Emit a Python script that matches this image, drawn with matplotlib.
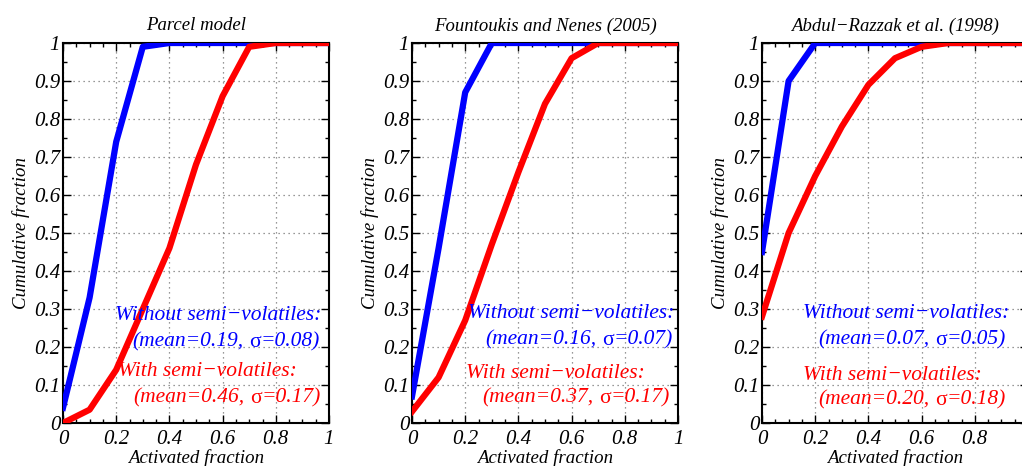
import numpy as np
import matplotlib
matplotlib.use("Agg")
import matplotlib.pyplot as plt
from matplotlib.ticker import MultipleLocator

plt.rcParams['font.family'] = ['Liberation Serif', 'DejaVu Serif']
plt.rcParams['font.style'] = 'italic'

activated = [0.0, 0.1, 0.2, 0.3, 0.4, 0.5, 0.6, 0.7, 0.8, 0.9, 1.0]

titles = ["Parcel model", "Fountoukis and Nenes (2005)", "Abdul\u2212Razzak et al. (1998)"]

parcel_without = [0.04, 0.33, 0.74, 0.99, 1.0, 1.0, 1.0, 1.0, 1.0, 1.0, 1.0]
parcel_with = [0.0, 0.035, 0.14, 0.30, 0.46, 0.68, 0.86, 0.99, 1.0, 1.0, 1.0]
fn_without = [0.07, 0.46, 0.87, 1.0, 1.0, 1.0, 1.0, 1.0, 1.0, 1.0, 1.0]
fn_with = [0.03, 0.12, 0.27, 0.47, 0.66, 0.84, 0.96, 1.0, 1.0, 1.0, 1.0]
ar_without = [0.45, 0.90, 1.0, 1.0, 1.0, 1.0, 1.0, 1.0, 1.0, 1.0, 1.0]
ar_with = [0.28, 0.50, 0.65, 0.78, 0.89, 0.96, 0.99, 1.0, 1.0, 1.0, 1.0]

without_series = [parcel_without, fn_without, ar_without]
with_series = [parcel_with, fn_with, ar_with]

without_mean = ["0.19", "0.16", "0.07"]
without_sigma = ["0.08", "0.07", "0.05"]
with_mean = ["0.46", "0.37", "0.20"]
with_sigma = ["0.17", "0.17", "0.18"]

xtick_labels = ['0', '0.2', '0.4', '0.6', '0.8', '1']
ytick_labels = ['0', '0.1', '0.2', '0.3', '0.4', '0.5', '0.6', '0.7', '0.8', '0.9', '1']

W, H = 1022, 466
fig = plt.figure(figsize=(W / 100, H / 100), dpi=100)

lefts_px = [63, 412, 762]
ax_w_px, ax_top_px, ax_bot_px = 266, 43, 423

txt_left_px = [
    [115, 132, 118, 133],
    [468, 485, 466, 482],
    [803, 818, 803, 818],
]
txt_y_px = [
    [315, 342, 372, 398],
    [313, 340, 373, 398],
    [313, 340, 375, 400],
]

FS = 15.5


def stats_line(ax, x, y, mean, sigma, color):
    t1 = ax.text(x, y, "(mean=" + mean + ",", transform=ax.transAxes, color=color,
                 fontsize=FS, ha='left', va='center', zorder=4)
    t2 = ax.annotate("\u03c3", xy=(1, 0), xycoords=t1, xytext=(4.5, 0), textcoords='offset points',
                     color=color, fontsize=FS, fontstyle='normal', ha='left', va='bottom', zorder=4)
    ax.annotate("=" + sigma + ")", xy=(1, 0), xycoords=t2, xytext=(0, 0), textcoords='offset points',
                color=color, fontsize=FS, ha='left', va='bottom', zorder=4)


for i in range(3):
    l = lefts_px[i]
    ax = fig.add_axes([l / W, (H - ax_bot_px) / H, ax_w_px / W, (ax_bot_px - ax_top_px) / H])
    ax.plot(activated, without_series[i], color='#0000ff', lw=4.5, zorder=3)
    ax.plot(activated, with_series[i], color='#ff0000', lw=4.5, zorder=3)
    ax.set_xlim(0, 1)
    ax.set_ylim(0, 1)
    ax.set_xticks([0, 0.2, 0.4, 0.6, 0.8, 1.0])
    xl = list(xtick_labels)
    if i == 2:
        xl[-1] = ''
    ax.set_xticklabels(xl)
    ax.set_yticks(np.round(np.arange(0, 1.01, 0.1), 1))
    ax.set_yticklabels(ytick_labels)
    ax.xaxis.set_minor_locator(MultipleLocator(0.05))
    ax.yaxis.set_minor_locator(MultipleLocator(0.05))
    ax.tick_params(which='both', direction='in', top=True, right=True, labelsize=15)
    ax.tick_params(which='major', length=6, width=1.0)
    ax.tick_params(which='minor', length=3, width=1.0)
    ax.tick_params(axis='x', pad=5)
    ax.tick_params(axis='y', pad=2)
    for s in ax.spines.values():
        s.set_linewidth(1.5)
    ax.grid(True, which='major', color='#777777', linestyle=(0, (1, 3)), linewidth=0.9)
    ax.set_axisbelow(True)
    ax.set_title(titles[i], fontsize=13.5, pad=9)
    ax.set_xlabel("Activated fraction", fontsize=13.6, labelpad=0)
    ax.set_ylabel("Cumulative fraction", fontsize=13.6, labelpad=3)

    fy = lambda yp: (ax_bot_px - yp) / (ax_bot_px - ax_top_px)
    fx = lambda xp: (xp - l) / ax_w_px
    ax.text(fx(txt_left_px[i][0]), fy(txt_y_px[i][0]), "Without semi\u2212volatiles:",
            transform=ax.transAxes, color='#0000ff', fontsize=FS, ha='left', va='center', zorder=4)
    stats_line(ax, fx(txt_left_px[i][1]), fy(txt_y_px[i][1]), without_mean[i], without_sigma[i], '#0000ff')
    ax.text(fx(txt_left_px[i][2]), fy(txt_y_px[i][2]), "With semi\u2212volatiles:",
            transform=ax.transAxes, color='#ff0000', fontsize=FS, ha='left', va='center', zorder=4)
    stats_line(ax, fx(txt_left_px[i][3]), fy(txt_y_px[i][3]), with_mean[i], with_sigma[i], '#ff0000')

fig.savefig("out.png", dpi=100)
